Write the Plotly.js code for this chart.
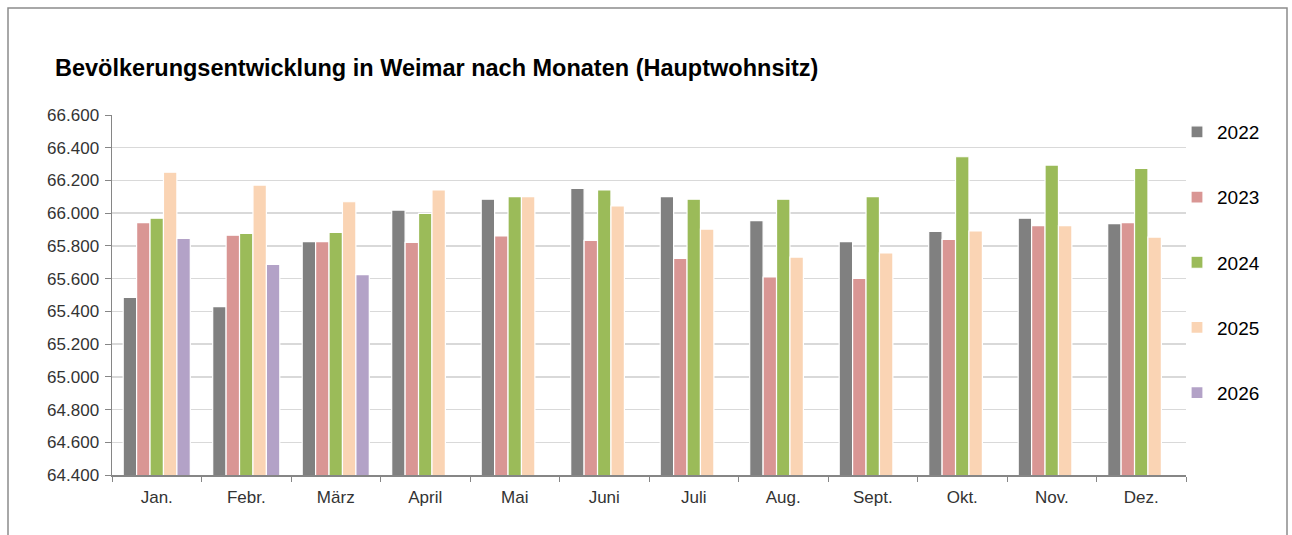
<!DOCTYPE html>
<html>
<head>
<meta charset="utf-8">
<script src="https://cdn.plot.ly/plotly-3.0.1.min.js"></script>
<style>
  html, body { margin: 0; padding: 0; background: #ffffff; }
  #chart { width: 1292px; height: 535px; }
</style>
</head>
<body>
<div id="chart"></div>
<script>
// ---- Data ----
const months = ["Jan.", "Febr.", "März", "April", "Mai", "Juni", "Juli", "Aug.", "Sept.", "Okt.", "Nov.", "Dez."];
const years = ["2022", "2023", "2024", "2025", "2026"];
const v2022 = [65486, 65429, 65826, 66019, 66085, 66152, 66101, 65954, 65826, 65889, 65969, 65936];
const v2023 = [65942, 65865, 65826, 65822, 65861, 65834, 65724, 65610, 65602, 65840, 65924, 65942];
const v2024 = [65969, 65877, 65883, 65999, 66101, 66142, 66085, 66085, 66101, 66345, 66294, 66274];
const v2025 = [66250, 66172, 66070, 66142, 66101, 66044, 65903, 65732, 65757, 65891, 65924, 65854];
const v2026 = [65846, 65687, 65624, null, null, null, null, null, null, null, null, null];
const colors = ["#808080", "#D99694", "#9BBB59", "#FAD4B4", "#B3A2C7"];
const yTickVals = [64400, 64600, 64800, 65000, 65200, 65400, 65600, 65800, 66000, 66200, 66400, 66600];

const series = [v2022, v2023, v2024, v2025, v2026];

const traces = series.map((vals, i) => ({
  type: "bar",
  name: years[i],
  x: months,
  y: vals,
  legendgroup: "g" + i,
  marker: { color: colors[i], line: { color: "#ffffff", width: 1.2 } },
  hoverinfo: "x+y+name"
}));

// Plot-area geometry in pixels
const W = 1292, H = 535;
const mL = 112, mR = 106, mT = 115, mB = 60;
const pw = W - mL - mR, ph = H - mT - mB;
const px = v => (v - mL) / pw;
const py = v => (H - mB - v) / ph;

const layout = {
  width: W,
  height: H,
  margin: { l: mL, r: mR, t: mT, b: mB, pad: 0 },
  paper_bgcolor: "#ffffff",
  plot_bgcolor: "#ffffff",
  separators: ",.",
  font: { family: "Liberation Sans, Arial, sans-serif", size: 17, color: "#333333" },
  title: {
    text: "<b>Bevölkerungsentwicklung in Weimar nach Monaten (Hauptwohnsitz)</b>",
    font: { family: "Liberation Sans, Arial, sans-serif", size: 23.5, color: "#000000" },
    x: 55 / W, xanchor: "left", xref: "container",
    y: 1 - 68 / H, yanchor: "middle", yref: "container"
  },
  barmode: "group",
  bargap: 0.25,
  bargroupgap: 0,
  showlegend: true,
  legend: {
    x: px(1177), xanchor: "left",
    y: py(113), yanchor: "top",
    font: { family: "Liberation Sans, Arial, sans-serif", size: 19, color: "#000000" },
    bgcolor: "rgba(0,0,0,0)",
    tracegroupgap: 37.5,
    itemwidth: 30,
    traceorder: "grouped",
    maxheight: 480
  },
  xaxis: {
    type: "category",
    showline: true, linecolor: "#868686", linewidth: 1.5,
    ticks: "outside", ticklen: 5, tickcolor: "#868686", tickson: "boundaries",
    showgrid: false,
    tickfont: { size: 17, color: "#333333" },
    ticklabelstandoff: 6,
    fixedrange: true
  },
  yaxis: {
    range: [64400, 66600],
    tickvals: yTickVals,
    tickformat: ",d",
    showline: true, linecolor: "#868686", linewidth: 1.5,
    ticks: "outside", ticklen: 6, tickcolor: "#868686",
    showgrid: true, gridcolor: "#D9D9D9", gridwidth: 1.5,
    zeroline: false,
    tickfont: { size: 17, color: "#333333" },
    ticklabelstandoff: 2,
    fixedrange: true
  },
  shapes: [
    {
      type: "rect", xref: "paper", yref: "paper", layer: "below",
      x0: px(8), x1: px(1287), y0: py(545), y1: py(8),
      line: { color: "#8C8C8C", width: 1.5 }, fillcolor: "rgba(0,0,0,0)"
    }
  ]
};

Plotly.newPlot("chart", traces, layout, { displayModeBar: false, staticPlot: true });
</script>
</body>
</html>
